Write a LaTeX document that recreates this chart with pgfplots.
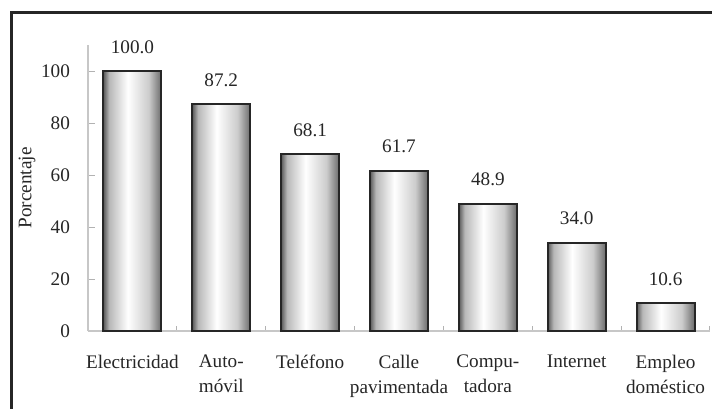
\documentclass[border=0pt]{standalone}
\usepackage{pgfplots}
\pgfplotsset{compat=1.18}
\usepackage{fontspec}
\setmainfont{Liberation Serif}
\pgfdeclarehorizontalshading{barshade}{100bp}{color(0bp)=(black!65); color(25bp)=(black!65); color(30bp)=(black!28); color(46bp)=(white); color(64bp)=(black!20); color(75bp)=(black!58); color(100bp)=(black!58)}
\begin{document}
\begin{tikzpicture}
\useasboundingbox (0,0) rectangle (356pt,204pt);
\begin{axis}[
  at={(44pt,38.5pt)}, anchor=south west,
  scale only axis, width=311pt, height=143pt,
  xmin=-0.5, xmax=6.5, ymin=0, ymax=110,
  enlargelimits=false,
  axis lines*=left,
  axis line style={draw=black!22, line width=0.6pt},
  every tick/.style={draw=black!30, line width=0.5pt},
  tick align=inside,
  ytick={0,20,...,100},
  xtick={0,...,6},
  major x tick style={draw=none},
  minor xtick={-0.5,0.5,...,6.5},
  minor tick length=2.5pt,
  major tick length=3.5pt,
  xticklabels={Electricidad,{Auto-\\móvil},Teléfono,{Calle\\pavimentada},{Compu-\\tadora},Internet,{Empleo\\doméstico}},
  /pgf/number format/assume math mode=true,
  tick label style={font=\fontsize{9.6}{12.5}\selectfont, text=black!85},
  xticklabel style={align=center, yshift=-8.5pt},
  yticklabel style={xshift=-5.5pt},
  barstyle/.style={ybar, bar width=29pt, bar shift=0pt, draw=black!85, line width=1pt, shading=barshade,
    nodes near coords,
    nodes near coords style={font=\fontsize{9.6}{12}\selectfont, text=black!85, yshift=5pt,
      /pgf/number format/.cd, fixed, fixed zerofill, precision=1, assume math mode=true}},
]
\addplot[barstyle] coordinates {(0,100.0)};
\addplot[barstyle] coordinates {(1,87.2)};
\addplot[barstyle] coordinates {(2,68.1)};
\addplot[barstyle] coordinates {(3,61.7)};
\addplot[barstyle] coordinates {(4,48.9)};
\addplot[barstyle] coordinates {(5,34.0)};
\addplot[barstyle] coordinates {(6,10.6)};
\end{axis}
\node[rotate=90, font=\fontsize{9.6}{12}\selectfont, text=black!85] at (13.5pt,110pt) {Porcentaje};
\begin{scope}
\clip (0,0) rectangle (356pt,204pt);
\draw[line width=1.5pt, draw=black!85] (5.5pt,-10pt) rectangle (370pt,197.8pt);
\end{scope}
\end{tikzpicture}
\end{document}
